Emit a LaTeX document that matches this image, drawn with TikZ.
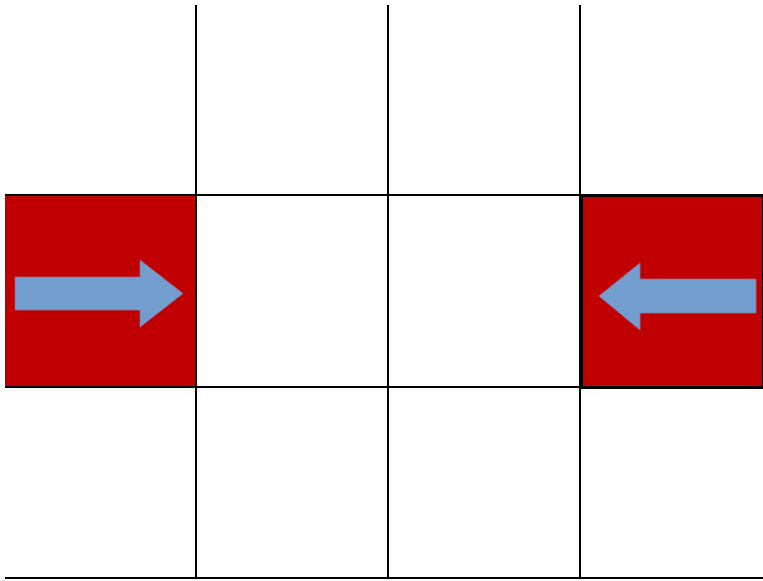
\documentclass[tikz,border=0pt]{standalone}
\definecolor{cellred}{RGB}{192,0,0}
\definecolor{arrowblue}{RGB}{116,157,207}
\begin{document}
\begin{tikzpicture}[x=0.5pt,y=-0.5pt,
  gridline/.style={black,line width=0.8pt},
  redcell/.style={fill=cellred},
  bluearrow/.style={fill=arrowblue,draw=arrowblue!70!cellred,line width=0.3pt}]
\useasboundingbox (0,0) rectangle (763,580);
\fill[white] (0,0) rectangle (763,580);
% red cells
\fill[redcell] (5,195) rectangle (196,387);
\filldraw[redcell,draw=black,line width=1.5pt] (581,195) rectangle (763,387);
% arrows
\filldraw[bluearrow] (15,277) -- (140,277) -- (140,260) -- (183,293.5) -- (140,327) -- (140,310) -- (15,310) -- cycle;
\filldraw[bluearrow] (756,279) -- (640,279) -- (640,263) -- (599,296) -- (640,330) -- (640,313) -- (756,313) -- cycle;
% grid
\draw[gridline] (196,5) -- (196,579);
\draw[gridline] (388,5) -- (388,579);
\draw[gridline] (580,5) -- (580,579);
\draw[gridline] (5,195) -- (763,195);
\draw[gridline] (5,387) -- (763,387);
\draw[gridline] (5,578) -- (763,578);
\end{tikzpicture}
\end{document}
